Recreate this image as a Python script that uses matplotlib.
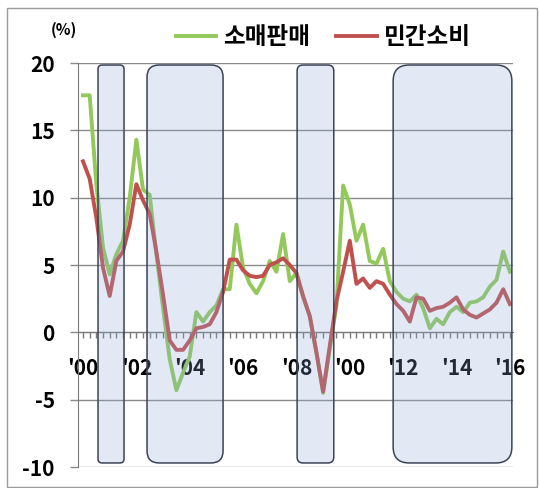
import numpy as np
import matplotlib
matplotlib.use("Agg")
import matplotlib.pyplot as plt
from matplotlib.patches import FancyBboxPatch, Rectangle

plt.rcParams['font.family'] = ['Noto Sans CJK KR', 'DejaVu Sans']

# 분기별 증가율 (%) : 2000Q1 ~ 2016Q1
retail = [17.6, 17.6, 11.0, 6.3, 4.3, 5.8, 6.8, 10.0, 14.3, 10.6,
          10.2, 5.8, 1.8, -2.0, -4.3, -3.0, -1.8, 1.5, 0.8, 1.5,
          2.0, 3.2, 3.2, 8.0, 4.8, 3.6, 2.9, 3.8, 5.3, 4.5,
          7.3, 3.8, 4.4, 2.6, 1.2, -1.5, -4.5, -1.2, 2.0, 10.9,
          9.5, 6.8, 8.0, 5.3, 5.1, 6.2, 3.8, 3.0, 2.5, 2.3,
          2.8, 1.8, 0.3, 1.0, 0.6, 1.5, 1.9, 1.5, 2.2, 2.3,
          2.6, 3.4, 3.9, 6.0, 4.5]
consumption = [12.7, 11.4, 8.5, 4.8, 2.7, 5.3, 6.0, 8.0, 11.0, 9.8,
               8.8, 6.0, 2.8, -0.6, -1.3, -1.3, -0.6, 0.3, 0.4, 0.6,
               1.5, 3.0, 5.4, 5.4, 4.6, 4.2, 4.1, 4.2, 5.0, 5.2,
               5.5, 5.0, 4.4, 2.7, 1.2, -1.5, -4.4, -1.0, 2.3, 4.5,
               6.8, 3.6, 4.0, 3.3, 3.8, 3.6, 2.8, 2.1, 1.6, 0.8,
               2.6, 2.5, 1.6, 1.8, 1.9, 2.2, 2.6, 1.7, 1.3, 1.1,
               1.4, 1.7, 2.2, 3.2, 2.1]
year_labels = ["'00", "'02", "'04", "'06", "'08", "'00", "'12", "'14", "'16"]
# 음영 구간 (분기 인덱스 시작, 끝)
shaded = [(2.25, 6.15), (9.6, 21.0), (32.1, 37.6), (46.5, 64.3)]

x = np.arange(len(retail))

fig = plt.figure(figsize=(5.39, 4.88), dpi=100)
ax = fig.add_axes([78 / 539, 21 / 488, 435 / 539, 404 / 488])

# 축 위치를 먼저 잡아야 눈금 글꼴이 초기화되지 않음
ax.spines['top'].set_visible(False)
ax.spines['right'].set_visible(False)
ax.spines['bottom'].set_position(('data', 0))
ax.spines['bottom'].set_color('#7a7a7a')
ax.spines['left'].set_color('#7a7a7a')
ax.set_axisbelow(True)

ax.plot(x, retail, color='#92c95a', lw=2.8, solid_joinstyle='round', label='소매판매', zorder=3)
ax.plot(x, consumption, color='#c0504d', lw=2.8, solid_joinstyle='round', label='민간소비', zorder=4)

# 둥근 사각형 음영
aspect = 6.67 / 13.47
for s, e in shaded:
    w = e - s
    r = min(0.16 * w, 2.4)
    box = FancyBboxPatch((s, -9.7), w, 29.55,
                         boxstyle=f"round,pad=0,rounding_size={r}",
                         mutation_aspect=aspect,
                         facecolor=(0.55, 0.67, 0.86, 0.25),
                         edgecolor='#3a4456', lw=1.1, zorder=5)
    ax.add_patch(box)

ax.set_xlim(-0.75, 64.47)
ax.set_ylim(-10, 20)

ax.set_yticks(range(-10, 21, 5))
ax.set_yticklabels([str(v) for v in range(-10, 21, 5)])
ax.yaxis.grid(True, color='#8a8a8a', lw=1.0, zorder=1)
ax.tick_params(axis='y', length=5.8, width=1.0, color='#8a8a8a', pad=11, labelsize=15)

ax.set_xticks(np.arange(0, 65, 8))
ax.set_xticklabels(year_labels)
ax.set_xticks(x, minor=True)
ax.tick_params(axis='x', which='both', length=4.3, width=1.0, color='#7a7a7a', pad=14)
ax.tick_params(axis='x', which='major', labelsize=15)

for lab in ax.get_xticklabels() + ax.get_yticklabels():
    lab.set_fontweight('bold')

fig.legend(loc='center', bbox_to_anchor=(0.6, 0.924), ncol=2, frameon=False,
           prop={'size': 17, 'weight': 'bold'}, handlelength=1.7,
           handletextpad=0.3, columnspacing=1.1)

fig.text(64 / 539, 1 - 30 / 488, '(%)', ha='center', va='center',
         fontsize=11, fontweight='bold')

fig.add_artist(Rectangle((7 / 539, 1 / 488), 530 / 539, 479 / 488,
                         transform=fig.transFigure, fill=False,
                         edgecolor='#9a9a9a', lw=1.0))

fig.savefig('out.png', dpi=100)
